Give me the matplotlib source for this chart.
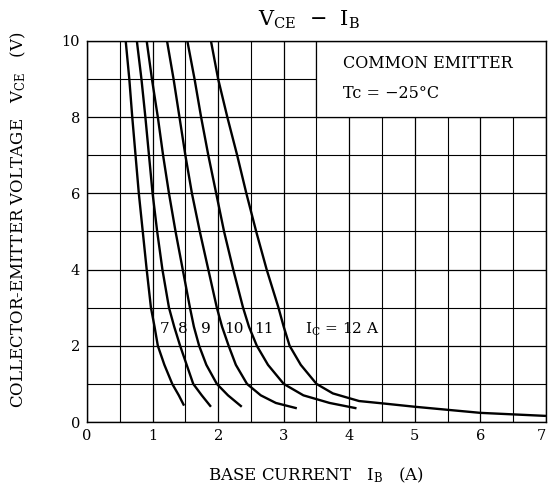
import numpy as np
import matplotlib.pyplot as plt
from matplotlib.patches import Rectangle

plt.rcParams['font.family'] = ['DejaVu Serif']
plt.rcParams['mathtext.fontset'] = 'dejavuserif'

# CURVE DI VCE - IB PER OGNI IC
ib_7 = [0.59, 0.645, 0.69, 0.74, 0.79, 0.85, 0.91, 0.975, 1.03, 1.08, 1.18, 1.30, 1.40, 1.48]
vce_7 = [10, 9, 8, 7, 6, 5, 4, 3, 2.5, 2, 1.5, 1.0, 0.7, 0.43]

ib_8 = [0.76, 0.83, 0.89, 0.945, 1.0, 1.07, 1.15, 1.25, 1.33, 1.42, 1.52, 1.62, 1.75, 1.89]
vce_8 = [10, 9, 8, 7, 6, 5, 4, 3, 2.5, 2, 1.5, 1.0, 0.7, 0.40]

ib_9 = [0.91, 0.99, 1.08, 1.16, 1.25, 1.35, 1.46, 1.57, 1.63, 1.71, 1.82, 1.98, 2.15, 2.36]
vce_9 = [10, 9, 8, 7, 6, 5, 4, 3, 2.5, 2, 1.5, 1.0, 0.7, 0.40]

ib_10 = [1.22, 1.32, 1.41, 1.50, 1.60, 1.72, 1.85, 1.98, 2.06, 2.16, 2.27, 2.44, 2.65, 2.88, 3.2]
vce_10 = [10, 9, 8, 7, 6, 5, 4, 3, 2.5, 2, 1.5, 1.0, 0.7, 0.5, 0.36]

ib_11 = [1.53, 1.64, 1.74, 1.85, 1.97, 2.09, 2.23, 2.38, 2.47, 2.59, 2.76, 3.0, 3.3, 3.7, 4.11]
vce_11 = [10, 9, 8, 7, 6, 5, 4, 3, 2.5, 2, 1.5, 1.0, 0.7, 0.5, 0.36]

ib_12 = [1.89, 2.0, 2.14, 2.29, 2.43, 2.58, 2.74, 2.92, 3.0, 3.09, 3.26, 3.5, 3.75, 4.15, 4.5, 5.0, 6.0, 7.0]
vce_12 = [10, 9, 8, 7, 6, 5, 4, 3, 2.5, 2, 1.5, 1.0, 0.75, 0.55, 0.49, 0.40, 0.24, 0.16]

curves = [(ib_7, vce_7), (ib_8, vce_8), (ib_9, vce_9),
          (ib_10, vce_10), (ib_11, vce_11), (ib_12, vce_12)]

# ETICHETTE DELLE CURVE
labels = ['7', '8', '9', '10', '11', r'$\mathrm{I_C}$ = 12 A']
label_x = [1.19, 1.46, 1.81, 2.24, 2.70, 3.90]
label_y = 2.43

fig = plt.figure(figsize=(5.49, 4.93), dpi=100)
ax = fig.add_axes([0.1585, 0.144, 0.836, 0.773])

ax.set_xlim(0, 7)
ax.set_ylim(0, 10)
ax.set_xticks(np.arange(0, 8, 1))
ax.set_xticks(np.arange(0, 7.5, 0.5), minor=True)
ax.set_yticks(np.arange(0, 12, 2))
ax.set_yticks(np.arange(0, 11, 1), minor=True)
ax.tick_params(which='both', length=0, labelsize=10.5, pad=5)
ax.grid(which='major', color='black', linewidth=0.9)
ax.grid(which='minor', color='black', linewidth=0.8)
ax.set_axisbelow(True)
for s in ax.spines.values():
    s.set_linewidth(1.0)
# l'ultima etichetta "7" sta sul bordo destro: la allineo a destra
ax.get_xticklabels()[-1].set_horizontalalignment('right')

for ib, vce in curves:
    ax.plot(ib, vce, color='black', linewidth=1.7, zorder=3,
            solid_joinstyle='round', solid_capstyle='butt')

# RIQUADRO CON LE CONDIZIONI DI MISURA
ax.add_patch(Rectangle((3.5, 8.0), 3.5, 2.0, facecolor='white', edgecolor='black',
                       linewidth=0.9, zorder=2))
ax.text(3.9, 9.4, 'COMMON EMITTER', fontsize=11.5, va='center', ha='left', zorder=4)
ax.text(3.9, 8.63, 'Tc = \u221225\u00b0C', fontsize=11.5, va='center', ha='left', zorder=4)

for lab, lx in zip(labels, label_x):
    ax.text(lx, label_y, lab, fontsize=11, ha='center', va='center', zorder=4)

fig.text(0.563, 0.96, '$\\mathrm{V_{CE}}$  \u2212  $\\mathrm{I_B}$',
         fontsize=15, ha='center', va='center')
fig.text(0.576, 0.035, r'BASE CURRENT   $\mathrm{I_B}$   (A)', fontsize=12,
         ha='center', va='center')
fig.text(0.033, 0.554, r'COLLECTOR-EMITTER VOLTAGE   $\mathrm{V_{CE}}$   (V)', fontsize=12,
         ha='center', va='center', rotation=90)

fig.savefig('out.png', dpi=100)
